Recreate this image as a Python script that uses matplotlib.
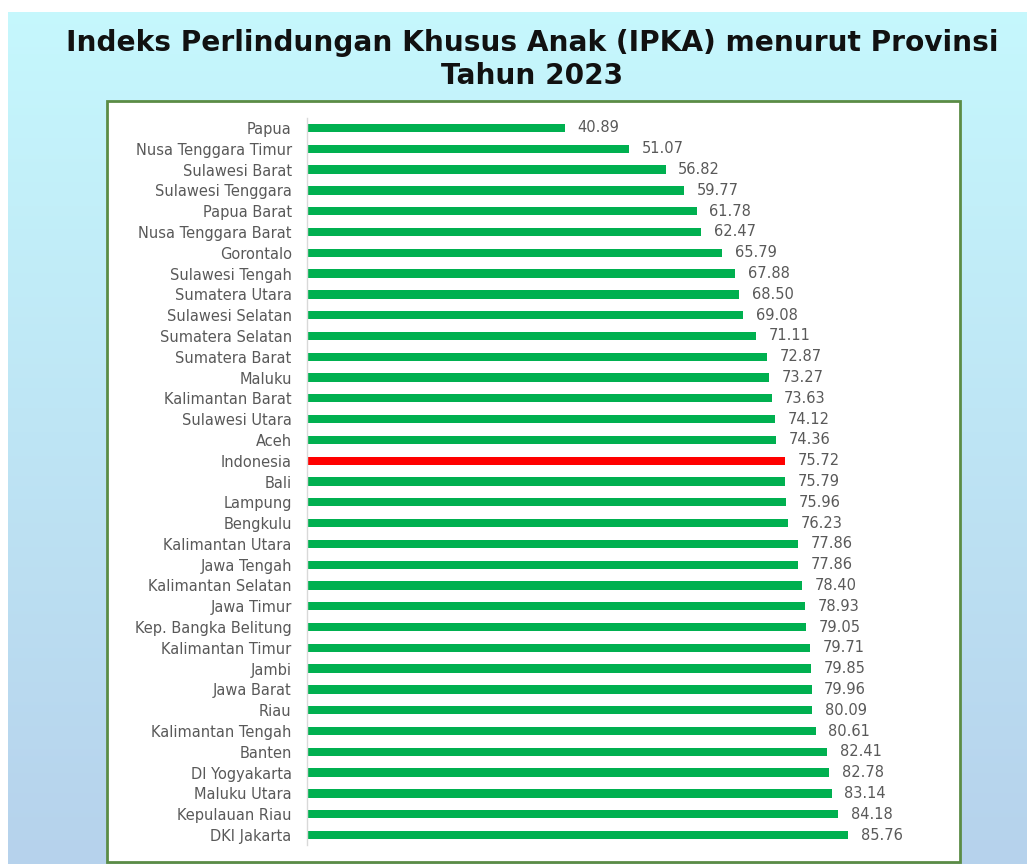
import matplotlib
matplotlib.use("Agg")
import matplotlib.pyplot as plt
import numpy as np
from matplotlib.patches import Rectangle

provinces = ["Papua", "Nusa Tenggara Timur", "Sulawesi Barat", "Sulawesi Tenggara",
             "Papua Barat", "Nusa Tenggara Barat", "Gorontalo", "Sulawesi Tengah",
             "Sumatera Utara", "Sulawesi Selatan", "Sumatera Selatan", "Sumatera Barat",
             "Maluku", "Kalimantan Barat", "Sulawesi Utara", "Aceh", "Indonesia", "Bali",
             "Lampung", "Bengkulu", "Kalimantan Utara", "Jawa Tengah", "Kalimantan Selatan",
             "Jawa Timur", "Kep. Bangka Belitung", "Kalimantan Timur", "Jambi", "Jawa Barat",
             "Riau", "Kalimantan Tengah", "Banten", "DI Yogyakarta", "Maluku Utara",
             "Kepulauan Riau", "DKI Jakarta"]
values = [40.89, 51.07, 56.82, 59.77, 61.78, 62.47, 65.79, 67.88, 68.50, 69.08, 71.11,
          72.87, 73.27, 73.63, 74.12, 74.36, 75.72, 75.79, 75.96, 76.23, 77.86, 77.86,
          78.40, 78.93, 79.05, 79.71, 79.85, 79.96, 80.09, 80.61, 82.41, 82.78, 83.14,
          84.18, 85.76]
title_line1 = "Indeks Perlindungan Khusus Anak (IPKA) menurut Provinsi"
title_line2 = "Tahun 2023"

W, H = 1027, 864
fig = plt.figure(figsize=(W / 100, H / 100), dpi=100)

# background gradient
bg = fig.add_axes([0, 0, 1, 1])
bg.set_axis_off()
top = np.array([198, 248, 253]) / 255
bot = np.array([182, 210, 236]) / 255
t = np.linspace(0, 1, 256)[:, None]
grad = top[None, :] * (1 - t) + bot[None, :] * t
img = np.repeat(grad[:, None, :], 4, axis=1)
bg.imshow(img, aspect="auto", extent=[0, 1, 0, 1], origin="upper")
bg.set_xlim(0, 1)
bg.set_ylim(0, 1)
bg.add_patch(Rectangle((0, 1 - 12 / H), 1, 12 / H, color="white", lw=0))
bg.add_patch(Rectangle((0, 0), 8 / W, 1, color="white", lw=0))
bg.add_patch(Rectangle((107 / W, 2 / H), (960 - 107) / W, (862 - 101) / H,
                       facecolor="white", edgecolor="#5B8C45", lw=2))

fig.text(532 / W, 1 - 43 / H, title_line1, ha="center", va="center",
         fontsize=20.2, fontweight="bold", family="DejaVu Sans", color="#111111")
fig.text(532 / W, 1 - 76 / H, title_line2, ha="center", va="center",
         fontsize=20.2, fontweight="bold", family="DejaVu Sans", color="#111111")

x0, x1 = 307, 940
ytop, ybot = 117.6, 845.4
ax = fig.add_axes([x0 / W, 1 - ybot / H, (x1 - x0) / W, (ybot - ytop) / H])
ax.set_facecolor("none")
n = len(provinces)
ypos = np.arange(n)
colors = ["#FF0000" if p == "Indonesia" else "#00B050" for p in provinces]
ax.barh(ypos, values, height=0.4, color=colors)
ax.set_ylim(n - 0.5, -0.5)
ax.set_xlim(0, (x1 - x0) / 6.31)
ax.set_yticks(ypos)
ax.set_yticklabels(provinces, fontsize=10.5, color="#595959", family="DejaVu Sans")
ax.tick_params(axis="y", length=0, pad=11)
ax.set_xticks([])
for s in ["top", "right", "bottom"]:
    ax.spines[s].set_visible(False)
ax.spines["left"].set_color("#D9D9D9")
ax.spines["left"].set_linewidth(1)
for y, v in zip(ypos, values):
    ax.text(v + 2.0, y, f"{v:.2f}", va="center", ha="left", fontsize=10.5,
            color="#595959", family="DejaVu Sans")

fig.savefig("out.png", dpi=100)
